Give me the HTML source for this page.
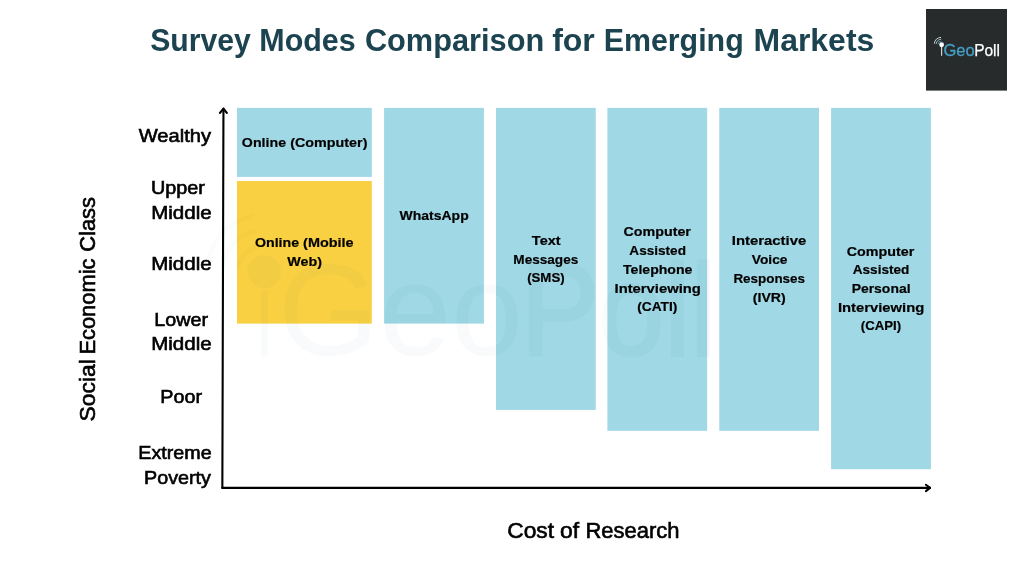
<!DOCTYPE html>
<html lang="en">
<head>
<meta charset="utf-8">
<title>Survey Modes Comparison for Emerging Markets</title>
<style>
  html, body { margin: 0; padding: 0; background: #ffffff; }
  body { width: 1024px; height: 576px; overflow: hidden; }
  svg { display: block; }
  text { font-family: "Liberation Sans", sans-serif; }
</style>
</head>
<body>
<svg width="1024" height="576" viewBox="0 0 1024 576">
  <rect x="0" y="0" width="1024" height="576" fill="#ffffff"/>

  <!-- title: Survey Modes Comparison for Emerging Markets -->
  <g font-size="30.8" font-weight="bold" fill="#1c4350">
    <text x="150.14" y="51.00" textLength="100.68" lengthAdjust="spacingAndGlyphs">Survey</text>
    <text x="259.29" y="51.00" textLength="96.41" lengthAdjust="spacingAndGlyphs">Modes</text>
    <text x="364.88" y="51.00" textLength="179.35" lengthAdjust="spacingAndGlyphs">Comparison</text>
    <text x="552.15" y="51.00" textLength="42.68" lengthAdjust="spacingAndGlyphs">for</text>
    <text x="603.67" y="51.00" textLength="140.04" lengthAdjust="spacingAndGlyphs">Emerging</text>
    <text x="753.53" y="51.00" textLength="120.78" lengthAdjust="spacingAndGlyphs">Markets</text>
  </g>

  <!-- GeoPoll logo -->
  <g>
    <rect x="926" y="9" width="81" height="81.6" fill="#272b2c"/>
    <path d="M941.6 46 V55.8" stroke="#d0d4d5" stroke-width="1.2" fill="none"/>
    <circle cx="941.6" cy="44.75" r="2.4" fill="#ffffff"/>
    <path d="M937.94 44.24 A3.7 3.7 0 0 1 941.34 41.06" stroke="#3f93b5" stroke-width="1" fill="none"/>
    <path d="M936.15 43.99 A5.5 5.5 0 0 1 941.22 39.26" stroke="#9fb6bd" stroke-width="1" fill="none"/>
    <path d="M934.27 43.72 A7.4 7.4 0 0 1 941.08 37.37" stroke="#c9cfd0" stroke-width="1" fill="none"/>
    <g font-size="16.8">
      <text x="943.44" y="55.80" textLength="31.27" lengthAdjust="spacingAndGlyphs" fill="#45a0c5" stroke="#45a0c5" stroke-width="0.3">Geo</text>
      <text x="974.16" y="55.80" textLength="25.86" lengthAdjust="spacingAndGlyphs" fill="#ffffff" stroke="#ffffff" stroke-width="0.25">Poll</text>
    </g>
  </g>

  <!-- bars -->
  <g>
    <rect x="237" y="107.9" width="134.8" height="69" fill="#a0d8e5"/>
    <rect x="237" y="181" width="134.8" height="142.6" fill="#f9d042"/>
    <rect x="384.1" y="107.9" width="99.8" height="215.7" fill="#a0d8e5"/>
    <rect x="496" y="107.9" width="99.75" height="302" fill="#a0d8e5"/>
    <rect x="607.4" y="107.9" width="99.75" height="322.9" fill="#a0d8e5"/>
    <rect x="719.3" y="107.9" width="99.7" height="322.9" fill="#a0d8e5"/>
    <rect x="831.1" y="107.9" width="99.8" height="361.3" fill="#a0d8e5"/>
  </g>

  <!-- watermark -->
  <g opacity="0.028" fill="#1c4a66">
    <rect x="261" y="290" width="6.6" height="66.8"/>
    <circle cx="264.3" cy="271.7" r="16.5"/>
    <g fill="none" stroke="#1c4a66" stroke-width="5" opacity="0.5">
      <path d="M238 268 A27 27 0 0 1 260 245.5"/>
      <path d="M223 265 A42 42 0 0 1 257 230.5"/>
      <path d="M208 262 A57 57 0 0 1 254 215.5"/>
    </g>
    <g font-size="129">
      <text x="278.08" y="354.50" textLength="244.99" lengthAdjust="spacingAndGlyphs">Geo</text>
      <text x="520.74" y="354.50" textLength="195.87" lengthAdjust="spacingAndGlyphs" stroke="#1c4a66" stroke-width="3">Poll</text>
    </g>
  </g>

  <!-- axes -->
  <g stroke="#000000" stroke-width="2.1" fill="none" stroke-linecap="round" stroke-linejoin="round">
    <path d="M223.45 108.8 L222.35 487.9"/>
    <path d="M222.3 487.9 H930"/>
    <path d="M220 112.9 L223.45 108.6 L226.8 112.9" stroke-width="2.2"/>
    <path d="M925.9 484.7 L930.1 487.9 L925.9 491.1" stroke-width="2"/>
  </g>

  <!-- bar labels -->
  <g font-size="13.6" font-weight="bold" fill="#000000" stroke="#000000" stroke-width="0.2">
    <g><text x="241.87" y="146.70" textLength="44.23" lengthAdjust="spacingAndGlyphs">Online</text>
      <text x="290.17" y="146.70" textLength="77.27" lengthAdjust="spacingAndGlyphs">(Computer)</text></g>
    <g><text x="254.98" y="247.25" textLength="44.11" lengthAdjust="spacingAndGlyphs">Online</text>
      <text x="303.11" y="247.25" textLength="50.50" lengthAdjust="spacingAndGlyphs">(Mobile</text>
      <text x="287.35" y="266.00" textLength="34.62" lengthAdjust="spacingAndGlyphs">Web)</text></g>
    <g><text x="399.64" y="219.90" textLength="69.07" lengthAdjust="spacingAndGlyphs">WhatsApp</text></g>
    <g><text x="531.85" y="244.80" textLength="28.78" lengthAdjust="spacingAndGlyphs">Text</text>
      <text x="513.33" y="263.60" textLength="64.96" lengthAdjust="spacingAndGlyphs">Messages</text>
      <text x="527.15" y="282.30" textLength="37.49" lengthAdjust="spacingAndGlyphs">(SMS)</text></g>
    <g><text x="623.41" y="236.40" textLength="67.53" lengthAdjust="spacingAndGlyphs">Computer</text>
      <text x="629.34" y="255.10" textLength="56.61" lengthAdjust="spacingAndGlyphs">Assisted</text>
      <text x="622.97" y="273.80" textLength="69.46" lengthAdjust="spacingAndGlyphs">Telephone</text>
      <text x="614.53" y="292.50" textLength="86.33" lengthAdjust="spacingAndGlyphs">Interviewing</text>
      <text x="637.16" y="311.20" textLength="40.19" lengthAdjust="spacingAndGlyphs">(CATI)</text></g>
    <g><text x="731.82" y="245.30" textLength="74.42" lengthAdjust="spacingAndGlyphs">Interactive</text>
      <text x="751.79" y="264.10" textLength="35.73" lengthAdjust="spacingAndGlyphs">Voice</text>
      <text x="733.38" y="282.80" textLength="71.63" lengthAdjust="spacingAndGlyphs">Responses</text>
      <text x="752.88" y="301.60" textLength="32.86" lengthAdjust="spacingAndGlyphs">(IVR)</text></g>
    <g><text x="846.81" y="255.60" textLength="67.53" lengthAdjust="spacingAndGlyphs">Computer</text>
      <text x="852.74" y="274.30" textLength="56.61" lengthAdjust="spacingAndGlyphs">Assisted</text>
      <text x="851.67" y="293.00" textLength="58.85" lengthAdjust="spacingAndGlyphs">Personal</text>
      <text x="837.93" y="311.70" textLength="86.33" lengthAdjust="spacingAndGlyphs">Interviewing</text>
      <text x="860.75" y="330.40" textLength="40.29" lengthAdjust="spacingAndGlyphs">(CAPI)</text></g>
  </g>

  <!-- y axis labels -->
  <g font-size="18.2" fill="#000000" stroke="#000000" stroke-width="0.6">
    <text x="138.76" y="141.50" textLength="72.27" lengthAdjust="spacingAndGlyphs">Wealthy</text>
    <text x="151.04" y="193.75" textLength="53.94" lengthAdjust="spacingAndGlyphs">Upper</text>
    <text x="151.19" y="218.50" textLength="60.48" lengthAdjust="spacingAndGlyphs">Middle</text>
    <text x="151.19" y="270.25" textLength="60.48" lengthAdjust="spacingAndGlyphs">Middle</text>
    <text x="154.27" y="325.60" textLength="53.72" lengthAdjust="spacingAndGlyphs">Lower</text>
    <text x="151.19" y="350.40" textLength="60.48" lengthAdjust="spacingAndGlyphs">Middle</text>
    <text x="160.30" y="402.90" textLength="41.68" lengthAdjust="spacingAndGlyphs">Poor</text>
    <text x="138.30" y="458.75" textLength="73.28" lengthAdjust="spacingAndGlyphs">Extreme</text>
    <text x="144.02" y="483.75" textLength="66.91" lengthAdjust="spacingAndGlyphs">Poverty</text>
  </g>

  <!-- axis titles -->
  <g font-size="21.3" fill="#000000" stroke="#000000" stroke-width="0.6">
    <text x="507.24" y="537.50" textLength="46.79" lengthAdjust="spacingAndGlyphs">Cost</text>
    <text x="559.98" y="537.50" textLength="19.07" lengthAdjust="spacingAndGlyphs">of</text>
    <text x="585.40" y="537.50" textLength="94.01" lengthAdjust="spacingAndGlyphs">Research</text>
  </g>
  <g font-size="21.3" fill="#000000" stroke="#000000" stroke-width="0.6" transform="rotate(-90)">
    <text x="-421.41" y="95.25" textLength="62.12" lengthAdjust="spacingAndGlyphs">Social</text>
    <text x="-354.58" y="95.25" textLength="96.05" lengthAdjust="spacingAndGlyphs">Economic</text>
    <text x="-251.71" y="95.25" textLength="54.59" lengthAdjust="spacingAndGlyphs">Class</text>
  </g>
</svg>
</body>
</html>
